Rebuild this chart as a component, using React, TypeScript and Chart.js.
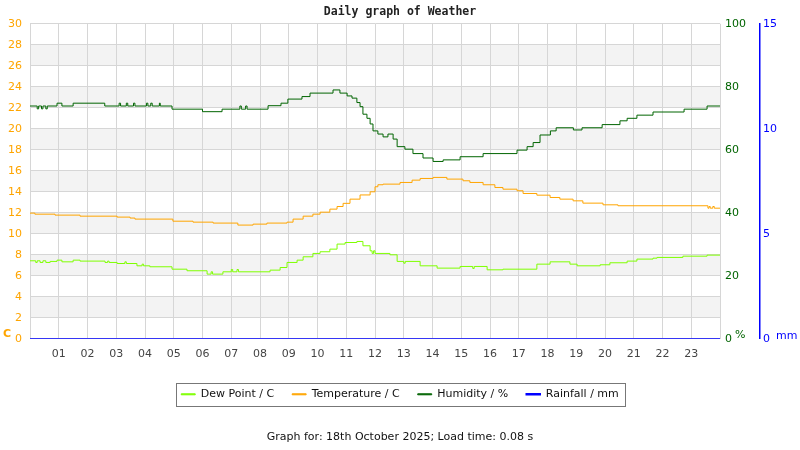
import { useEffect, useRef } from "react";
import { Chart, registerables } from "chart.js";

Chart.register(...registerables);

// hour labels along the bottom axis
const hourLabels = [
  "01", "02", "03", "04", "05", "06", "07", "08", "09", "10", "11", "12",
  "13", "14", "15", "16", "17", "18", "19", "20", "21", "22", "23"
];

// humidity, % (times in hours since midnight, value holds until next change)
const humidityTimes = [
  0, 0.25, 0.3, 0.4, 0.45, 0.55, 0.6, 0.94, 1.11, 1.5, 2.6, 3.1, 3.15, 3.35, 3.4, 3.6, 3.65,
  4.05, 4.1, 4.2, 4.25, 4.5, 4.53, 4.94, 6.0, 6.68, 7.3, 7.35, 7.5, 7.55, 8.28, 8.73, 8.97,
  9.46, 9.74, 10.54, 10.78, 11.03, 11.2, 11.37, 11.48, 11.58, 11.72, 11.83, 11.93, 12.1,
  12.28, 12.45, 12.63, 12.77, 13.04, 13.32, 13.67, 14.02, 14.37, 14.96, 15.76, 16.94, 17.29,
  17.5, 17.74, 18.1, 18.3, 18.9, 19.2, 19.9, 20.52, 20.77, 21.11, 21.67, 22.75, 23.55, 24
];
const humidityValues = [
  73.9, 73.0, 73.9, 73.0, 73.9, 73.0, 73.9, 74.8, 73.9, 74.8, 73.9, 74.8, 73.9, 74.8, 73.9, 74.8, 73.9,
  74.8, 73.9, 74.8, 73.9, 74.8, 73.9, 72.9, 72.1, 72.9, 73.9, 72.9, 73.9, 72.9, 74.0, 74.8, 76.1,
  76.9, 78.0, 79.0, 78.0, 77.1, 76.4, 75.0, 73.7, 71.3, 70.0, 68.2, 66.0, 65.0,
  64.1, 65.0, 63.4, 61.0, 60.2, 58.8, 57.4, 56.3, 56.8, 57.8, 58.8, 59.9, 61.0,
  62.3, 64.7, 66.0, 67.0, 66.3, 67.0, 68.0, 69.2, 70.0, 71.0, 72.0, 72.9, 73.9, 73.9
];

// temperature, C
const temperatureTimes = [
  0, 0.17, 0.87, 1.74, 3.03, 3.48, 3.65, 4.97, 5.67, 6.37, 7.23, 7.76, 8.24, 8.94, 9.15, 9.5,
  9.84, 10.09, 10.43, 10.68, 10.89, 11.13, 11.48, 11.83, 12.0, 12.1, 12.28, 12.87, 13.29, 13.57,
  14.02, 14.5, 15.06, 15.3, 15.76, 16.17, 16.45, 16.94, 17.15, 17.63, 18.09, 18.43, 18.89, 19.23,
  19.93, 20.45, 23.58, 23.62, 23.66, 23.75, 23.8, 24
];
const temperatureValues = [
  11.97, 11.87, 11.78, 11.68, 11.59, 11.5, 11.4, 11.2, 11.11, 11.02, 10.83, 10.92, 11.02, 11.11, 11.4, 11.68,
  11.87, 12.06, 12.35, 12.6, 12.9, 13.3, 13.7, 14.0, 14.48, 14.67, 14.73, 14.89, 15.11, 15.27,
  15.37, 15.21, 15.05, 14.89, 14.67, 14.41, 14.25, 14.1, 13.84, 13.68, 13.46, 13.3, 13.14, 12.92,
  12.76, 12.67, 12.44, 12.6, 12.44, 12.6, 12.44, 12.44
];

// dew point, C
const dewPointTimes = [
  0, 0.2, 0.25, 0.35, 0.45, 0.55, 0.7, 0.94, 1.11, 1.5, 1.74, 2.61, 2.7, 2.75, 3.03, 3.3, 3.35,
  3.72, 3.9, 3.95, 4.17, 4.94, 5.46, 6.16, 6.3, 6.35, 6.71, 7.0, 7.05, 7.2, 7.25, 8.35, 8.7,
  8.94, 9.29, 9.5, 9.84, 10.09, 10.43, 10.68, 10.96, 11.37, 11.58, 11.83, 11.9, 11.95, 12.0,
  12.52, 12.77, 13.0, 13.05, 13.57, 14.16, 14.96, 15.4, 15.45, 15.9, 16.45, 17.63, 18.09,
  18.78, 19.03, 19.83, 20.17, 20.77, 21.11, 21.67, 21.81, 22.71, 23.55, 24
];
const dewPointValues = [
  7.43, 7.27, 7.43, 7.27, 7.43, 7.27, 7.37, 7.49, 7.33, 7.49, 7.4, 7.27, 7.4, 7.27, 7.17, 7.33, 7.17,
  6.95, 7.11, 6.95, 6.86, 6.63, 6.48, 6.16, 6.38, 6.16, 6.38, 6.6, 6.38, 6.6, 6.38, 6.54, 6.79,
  7.27, 7.49, 7.81, 8.13, 8.29, 8.54, 9.02, 9.17, 9.27, 8.86, 8.38, 8.13, 8.38, 8.13,
  8.0, 7.37, 7.2, 7.37, 6.95, 6.73, 6.89, 6.7, 6.89, 6.57, 6.63, 7.11, 7.33,
  7.11, 6.95, 7.05, 7.24, 7.4, 7.59, 7.68, 7.75, 7.87, 7.97, 7.97
];

// rainfall, mm
const rainfallTimes = [0, 24];
const rainfallValues = [0, 0];

const ORANGE = "#ffa500";
const LIME = "#7fff00";
const DARK_GREEN = "#006400";
const BLUE = "#0000ff";
const GRID = "#d6d6d6";

function toPoints(times: number[], values: number[]) {
  return times.map((x, i) => ({ x, y: values[i] }));
}

const weatherDecor = {
  id: "weatherDecor",
  beforeDraw(chart: any) {
    const { ctx, chartArea, scales } = chart;
    const y = scales.y;
    ctx.save();
    ctx.fillStyle = "#f3f3f3";
    for (let v = 2; v < 30; v += 4) {
      const top = y.getPixelForValue(v + 2);
      const bottom = y.getPixelForValue(v);
      ctx.fillRect(chartArea.left, top, chartArea.right - chartArea.left, bottom - top);
    }
    ctx.restore();
  },
  afterDraw(chart: any) {
    const { ctx, chartArea, legend } = chart;
    ctx.save();
    const boxes = legend.legendHitBoxes;
    if (boxes && boxes.length) {
      const first = boxes[0];
      const last = boxes[boxes.length - 1];
      const left = Math.round(first.left - 5) + 0.5;
      const right = Math.round(last.left + last.width + 6) + 0.5;
      const top = Math.round(first.top - 6) + 0.5;
      const bottom = Math.round(first.top + first.height + 6) + 0.5;
      ctx.strokeStyle = "#777";
      ctx.lineWidth = 1;
      ctx.strokeRect(left, top, right - left, bottom - top);
    }
    ctx.textBaseline = "middle";
    ctx.textAlign = "left";
    ctx.font = "bold 11px 'DejaVu Sans'";
    ctx.fillStyle = ORANGE;
    ctx.fillText("C", 3, chartArea.bottom - 5);
    ctx.font = "11px 'DejaVu Sans'";
    ctx.fillStyle = DARK_GREEN;
    ctx.fillText("%", 735, chartArea.bottom - 4);
    ctx.fillStyle = BLUE;
    ctx.fillText("mm", 776, chartArea.bottom - 3);
    ctx.restore();
  }
};

function WeatherChart() {
  const canvasRef = useRef<HTMLCanvasElement | null>(null);

  useEffect(() => {
    if (!canvasRef.current) {
      return undefined;
    }
    Chart.defaults.font.family = "'DejaVu Sans', sans-serif";

    const lineStyle = {
      borderWidth: 1,
      pointRadius: 0,
      stepped: true as const,
      fill: false
    };

    const chart = new Chart(canvasRef.current, {
      type: "line",
      data: {
        datasets: [
          {
            label: "Dew Point / C",
            data: toPoints(dewPointTimes, dewPointValues),
            borderColor: LIME,
            backgroundColor: LIME,
            yAxisID: "y",
            ...lineStyle
          },
          {
            label: "Temperature / C",
            data: toPoints(temperatureTimes, temperatureValues),
            borderColor: ORANGE,
            backgroundColor: ORANGE,
            yAxisID: "y",
            ...lineStyle
          },
          {
            label: "Humidity / %",
            data: toPoints(humidityTimes, humidityValues),
            borderColor: DARK_GREEN,
            backgroundColor: DARK_GREEN,
            yAxisID: "y1",
            ...lineStyle
          },
          {
            label: "Rainfall / mm",
            data: toPoints(rainfallTimes, rainfallValues),
            borderColor: BLUE,
            backgroundColor: BLUE,
            yAxisID: "y2",
            ...lineStyle,
            borderWidth: 1.5
          }
        ]
      },
      options: {
        animation: false,
        responsive: true,
        maintainAspectRatio: false,
        layout: { padding: { left: 0, right: 0, top: 0, bottom: 0 } },
        plugins: {
          title: {
            display: true,
            text: "Daily graph of Weather",
            color: "#222",
            font: { family: "'DejaVu Sans Mono', monospace", size: 11.5, weight: "bold" },
            padding: { top: 5, bottom: 5 }
          },
          subtitle: {
            display: true,
            position: "bottom",
            text: "Graph for: 18th October 2025; Load time: 0.08 s",
            color: "#111",
            font: { size: 11 },
            padding: { top: 21, bottom: 6 }
          },
          legend: {
            position: "bottom",
            labels: {
              color: "#111",
              font: { size: 11 },
              boxWidth: 14,
              boxHeight: 1,
              padding: 18
            }
          },
          tooltip: { enabled: false }
        },
        scales: {
          x: {
            type: "linear",
            min: 0,
            max: 24,
            afterFit: (scale: any) => {
              scale.height = 32;
            },
            grid: { color: GRID, drawTicks: false },
            border: { color: GRID },
            ticks: {
              stepSize: 1,
              autoSkip: false,
              maxRotation: 0,
              padding: 9,
              color: "#444",
              font: { size: 11 },
              callback: (value: any) => {
                const v = Number(value);
                return v >= 1 && v <= hourLabels.length ? hourLabels[v - 1] : "";
              }
            }
          },
          y: {
            position: "left",
            min: 0,
            max: 30,
            afterFit: (scale: any) => {
              scale.width = 30;
            },
            grid: { color: GRID, drawTicks: false },
            border: { color: GRID },
            ticks: { stepSize: 2, color: ORANGE, padding: 8, font: { size: 11 } }
          },
          y1: {
            position: "right",
            min: 0,
            max: 100,
            afterFit: (scale: any) => {
              scale.width = 40;
            },
            grid: { display: false, drawTicks: false },
            border: { display: false },
            ticks: { stepSize: 20, color: DARK_GREEN, padding: 5, font: { size: 11 } }
          },
          y2: {
            position: "right",
            min: 0,
            max: 15,
            afterFit: (scale: any) => {
              scale.width = 40;
            },
            grid: { display: false, drawTicks: false },
            border: { display: true, color: BLUE, width: 1.5 },
            ticks: { stepSize: 5, color: BLUE, padding: 3, font: { size: 11 } }
          }
        }
      },
      plugins: [weatherDecor]
    });

    return () => chart.destroy();
  }, []);

  return (
    <div style={{ position: "fixed", left: 0, top: 0, width: 800, height: 450, background: "#fff" }}>
      <canvas ref={canvasRef} />
    </div>
  );
}

export default function App() {
  return <WeatherChart />;
}
